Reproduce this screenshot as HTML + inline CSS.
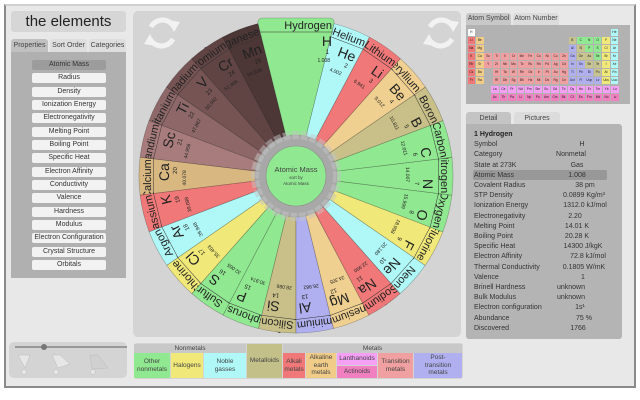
<!DOCTYPE html>
<html><head><meta charset="utf-8"><style>
*{margin:0;padding:0;box-sizing:border-box}
body{width:640px;height:400px;background:#fff;position:relative;overflow:hidden;font-family:"Liberation Sans",sans-serif;color:#222}
.a{position:absolute}
.frame{left:4px;top:4px;width:632px;height:384px;background:#e8e8e8;border:2px solid #8a8a8a;border-top-color:#d0d0d0}
.btn{position:absolute;left:32px;width:74px;height:10px;background:#f2f2f2;border-radius:2px;font-size:7px;text-align:center;line-height:10px;color:#333}
.tab{position:absolute;font-size:7px;text-align:center;border-radius:3px 3px 0 0;color:#444}
.pt{position:absolute;display:grid;grid-template-columns:repeat(18,7.6px);grid-auto-rows:6.5px;column-gap:0.84px;row-gap:1.5px}
.pt b,.lt b{font-weight:normal;font-size:3.2px;line-height:6.5px;text-align:center;color:#222;display:block}
.lt{position:absolute;display:grid;grid-template-columns:repeat(15,7.6px);grid-auto-rows:6.5px;column-gap:1px;row-gap:1.5px}
.A{background:#f07878}.E{background:#f0cc88}.T{background:#f0a0a0}.P{background:#b0b0f0}.M{background:#c8c490}.N{background:#90e890}.X{background:#f0e878}.G{background:#b0f8f8}.L{background:#f4a0f4}.C{background:#f080c0}.W{background:#fff}
.leg{position:absolute;font-size:6.5px;text-align:center;color:#444;display:flex;align-items:center;justify-content:center;line-height:1.15}
.row{position:absolute;left:474px;font-size:7px;color:#333}
.val{position:absolute;font-size:7px;color:#333;transform:translateX(-50%);white-space:nowrap}
</style></head><body>
<div class="a frame"></div>
<div class="a" style="left:11px;top:11px;width:115px;height:21px;background:#d6d6d6;border-radius:3px;font-size:15px;text-align:center;line-height:21px;color:#222">the elements</div>
<div class="tab" style="left:11px;top:39px;width:37px;height:13px;background:#c0c0c0;line-height:13px">Properties</div>
<div class="tab" style="left:50px;top:39px;width:37px;height:13px;background:#dedede;line-height:13px">Sort Order</div>
<div class="tab" style="left:89px;top:39px;width:37px;height:13px;background:#dedede;line-height:13px">Categories</div>
<div class="a" style="left:11px;top:52px;width:115px;height:226px;background:#b0b0b0"></div>
<div class="btn" style="top:60px;background:#9c9c9c">Atomic Mass</div>
<div class="btn" style="top:73.3px">Radius</div>
<div class="btn" style="top:86.7px">Density</div>
<div class="btn" style="top:100px">Ionization Energy</div>
<div class="btn" style="top:113.3px">Electronegativity</div>
<div class="btn" style="top:126.7px">Melting Point</div>
<div class="btn" style="top:140px">Boiling Point</div>
<div class="btn" style="top:153.3px">Specific Heat</div>
<div class="btn" style="top:166.7px">Electron Affinity</div>
<div class="btn" style="top:180px">Conductivity</div>
<div class="btn" style="top:193.3px">Valence</div>
<div class="btn" style="top:206.7px">Hardness</div>
<div class="btn" style="top:220px">Modulus</div>
<div class="btn" style="top:233.3px">Electron Configuration</div>
<div class="btn" style="top:246.7px">Crystal Structure</div>
<div class="btn" style="top:260px">Orbitals</div>

<div class="a" style="left:9px;top:342px;width:118px;height:36px;background:#d4d4d4;border-radius:5px"></div>

<div class="a" style="left:133px;top:11px;width:328px;height:326px;background:#d4d4d4;border-radius:5px"></div>

<!-- periodic table panel -->
<div class="tab" style="left:466px;top:13px;width:45px;height:12px;background:#c8c8c8;line-height:12px">Atom Symbol</div>
<div class="tab" style="left:513px;top:13px;width:46px;height:12px;background:#dcdcdc;line-height:12px">Atom Number</div>
<div class="a" style="left:466px;top:25px;width:164px;height:79px;background:#b2b2b2"></div>
<div class="pt" style="left:467.5px;top:29px">
<b class="W">H</b><b class="G" style="grid-column:18">He</b>
<b class="A">Li</b><b class="E">Be</b><b class="M" style="grid-column:13">B</b><b class="N">C</b><b class="N">N</b><b class="N">O</b><b class="X">F</b><b class="G">Ne</b>
<b class="A">Na</b><b class="E">Mg</b><b class="P" style="grid-column:13">Al</b><b class="M">Si</b><b class="N">P</b><b class="N">S</b><b class="X">Cl</b><b class="G">Ar</b>
<b class="A">K</b><b class="E">Ca</b><b class="T">Sc</b><b class="T">Ti</b><b class="T">V</b><b class="T">Cr</b><b class="T">Mn</b><b class="T">Fe</b><b class="T">Co</b><b class="T">Ni</b><b class="T">Cu</b><b class="T">Zn</b><b class="P">Ga</b><b class="M">Ge</b><b class="M">As</b><b class="N">Se</b><b class="X">Br</b><b class="G">Kr</b>
<b class="A">Rb</b><b class="E">Sr</b><b class="T">Y</b><b class="T">Zr</b><b class="T">Nb</b><b class="T">Mo</b><b class="T">Tc</b><b class="T">Ru</b><b class="T">Rh</b><b class="T">Pd</b><b class="T">Ag</b><b class="T">Cd</b><b class="P">In</b><b class="P">Sn</b><b class="M">Sb</b><b class="M">Te</b><b class="X">I</b><b class="G">Xe</b>
<b class="A">Cs</b><b class="E">Ba</b><b class="T" style="grid-column:4">Hf</b><b class="T">Ta</b><b class="T">W</b><b class="T">Re</b><b class="T">Os</b><b class="T">Ir</b><b class="T">Pt</b><b class="T">Au</b><b class="T">Hg</b><b class="P">Tl</b><b class="P">Pb</b><b class="P">Bi</b><b class="M">Po</b><b class="X">At</b><b class="G">Rn</b>
<b class="A">Fr</b><b class="E">Ra</b><b class="T" style="grid-column:4">Rf</b><b class="T">Db</b><b class="T">Sg</b><b class="T">Bh</b><b class="T">Hs</b><b class="T">Mt</b><b class="T">Ds</b><b class="T">Rg</b><b class="T">Cn</b><b class="P">Uut</b><b class="P">Fl</b><b class="P">Uup</b><b class="P">Lv</b><b class="X">Uus</b><b class="G">Uuo</b>
</div>
<div class="lt" style="left:491px;top:86px">
<b class="L">La</b><b class="L">Ce</b><b class="L">Pr</b><b class="L">Nd</b><b class="L">Pm</b><b class="L">Sm</b><b class="L">Eu</b><b class="L">Gd</b><b class="L">Tb</b><b class="L">Dy</b><b class="L">Ho</b><b class="L">Er</b><b class="L">Tm</b><b class="L">Yb</b><b class="L">Lu</b>
<b class="C">Ac</b><b class="C">Th</b><b class="C">Pa</b><b class="C">U</b><b class="C">Np</b><b class="C">Pu</b><b class="C">Am</b><b class="C">Cm</b><b class="C">Bk</b><b class="C">Cf</b><b class="C">Es</b><b class="C">Fm</b><b class="C">Md</b><b class="C">No</b><b class="C">Lr</b>
</div>

<!-- detail panel -->
<div class="tab" style="left:466px;top:112px;width:45px;height:13px;background:#c4c4c4;line-height:13px">Detail</div>
<div class="tab" style="left:514px;top:112px;width:46px;height:13px;background:#dcdcdc;line-height:13px">Pictures</div>
<div class="a" style="left:466px;top:124px;width:156px;height:215px;background:#b4b4b4;border-radius:0 3px 3px 3px"></div>
<div class="a" style="left:473px;top:170px;width:134px;height:10px;background:#989898;border-radius:2px"></div>
<div class="row" style="top:131px;font-weight:bold;color:#222">1 Hydrogen</div>
<div class="row" style="top:141.2px">Symbol</div><div class="val" style="top:141.2px;left:582px">H</div>
<div class="row" style="top:151.4px">Category</div><div class="val" style="top:151.4px;left:571px">Nonmetal</div>
<div class="row" style="top:161.6px">State at 273K</div><div class="val" style="top:161.6px;left:577px">Gas</div>
<div class="row" style="top:171.8px">Atomic Mass</div><div class="val" style="top:171.8px;left:577px">1.008</div>
<div class="row" style="top:182px">Covalent Radius</div><div class="val" style="top:182px;left:585px">38 pm</div>
<div class="row" style="top:192.2px">STP Density</div><div class="val" style="top:192.2px;left:584px">0.0899 Kg/m³</div>
<div class="row" style="top:202.4px">Ionization Energy</div><div class="val" style="top:202.4px;left:585px">1312.0 kJ/mol</div>
<div class="row" style="top:212.6px">Electronegativity</div><div class="val" style="top:212.6px;left:575px">2.20</div>
<div class="row" style="top:222.8px">Melting Point</div><div class="val" style="top:222.8px;left:577px">14.01 K</div>
<div class="row" style="top:233px">Boiling Point</div><div class="val" style="top:233px;left:577px">20.28 K</div>
<div class="row" style="top:243.2px">Specific Heat</div><div class="val" style="top:243.2px;left:583px">14300 J/kgK</div>
<div class="row" style="top:253.4px">Electron Affinity</div><div class="val" style="top:253.4px;left:588px">72.8 kJ/mol</div>
<div class="row" style="top:263.6px">Thermal Conductivity</div><div class="val" style="top:263.6px;left:584px">0.1805 W/mK</div>
<div class="row" style="top:273.8px">Valence</div><div class="val" style="top:273.8px;left:583px">1</div>
<div class="row" style="top:284px">Brinell Hardness</div><div class="val" style="top:284px;left:571px">unknown</div>
<div class="row" style="top:294.2px">Bulk Modulus</div><div class="val" style="top:294.2px;left:571px">unknown</div>
<div class="row" style="top:304.4px">Electron configuration</div><div class="val" style="top:304.4px;left:580px">1s¹</div>
<div class="row" style="top:314.6px">Abundance</div><div class="val" style="top:314.6px;left:584px">75 %</div>
<div class="row" style="top:324.8px">Discovered</div><div class="val" style="top:324.8px;left:578px">1766</div>

<!-- legend -->
<div class="a" style="left:134px;top:343px;width:329px;height:36px;background:#d4d4d4;border-radius:3px"></div>
<div class="leg" style="left:134px;top:344px;width:112px;height:9px;background:#c8c8c8">Nonmetals</div>
<div class="leg" style="left:283px;top:344px;width:179px;height:9px;background:#c8c8c8">Metals</div>
<div class="leg N" style="left:134px;top:353px;width:36px;height:25px">Other<br>nonmetals</div>
<div class="leg X" style="left:171px;top:353px;width:32px;height:25px">Halogens</div>
<div class="leg G" style="left:204px;top:353px;width:42px;height:25px">Noble<br>gasses</div>
<div class="leg" style="left:247px;top:344px;width:35px;height:34px;background:#c4c08a">Metalloids</div>
<div class="leg A" style="left:283px;top:353px;width:22px;height:25px">Alkali<br>metals</div>
<div class="leg E" style="left:306px;top:353px;width:30px;height:25px">Alkaline<br>earth<br>metals</div>
<div class="leg L" style="left:337px;top:353px;width:40px;height:12px">Lanthanoids</div>
<div class="leg C" style="left:337px;top:366px;width:40px;height:12px">Actinoids</div>
<div class="leg T" style="left:378px;top:353px;width:35px;height:25px">Transition<br>metals</div>
<div class="leg P" style="left:414px;top:353px;width:48px;height:25px">Post-<br>transition<br>metals</div>

<svg class="a" style="left:0;top:0" width="640" height="400" viewBox="0 0 640 400" font-family="Liberation Sans, sans-serif">
<defs>
<path id="w" d="M-4.8,-39.7 L-18.9,-155.9 A157 157 0 0 1 18.9,-155.9 L4.8,-39.7 Z" stroke="rgba(0,0,0,0.3)" stroke-width="0.6"/>
<path id="wh" d="M-9.7,-38.8 L-38.2,-153.3 Q-38,-158 -33,-158 L33,-158 Q38,-158 38.2,-153.3 L9.7,-38.8 Z" stroke="rgba(0,0,0,0.3)" stroke-width="0.6"/>
</defs>
<!-- bottom-left control -->
<line x1="15" y1="347" x2="127" y2="347" stroke="#999" stroke-width="2"/>
<circle cx="44" cy="347" r="3" fill="#777"/>
<g fill="#e6e6e6" stroke="#bbb" stroke-width="0.5">
<path d="M18,355 L30,355 L25,368 Z"/><circle cx="24" cy="372" r="2.5"/>
<path d="M52,355 L60,355 L70,364 L58,368 Z"/><circle cx="56" cy="372" r="2.5"/>
<path d="M90,355 L98,355 L108,368 L92,369 Z" fill="#d0d0d0"/><circle cx="93" cy="372" r="2.5"/>
</g>
<!-- refresh icons -->
<g fill="none" stroke="#f2f2f2" stroke-width="5">
<path d="M151,27 A13,13 0 0 1 174,27"/><path d="M173,39 A13,13 0 0 1 150,39"/>
<path d="M430,27 A13,13 0 0 1 453,27"/><path d="M452,39 A13,13 0 0 1 429,39"/>
</g>
<g fill="#f2f2f2">
<path d="M168,20 L180,22 L174,32 Z"/><path d="M156,46 L144,44 L150,34 Z"/>
<path d="M447,20 L459,22 L453,32 Z"/><path d="M435,46 L423,44 L429,34 Z"/>
</g>
<!-- wheel -->
<g fill="#222">
<g transform="translate(296 176) rotate(339.08)"><use href="#w" fill="#4c3636"/><text x="17" y="-145" font-size="11" text-anchor="end">Manganese</text><line x1="-19" y1="-142.5" x2="19" y2="-142.5" stroke="#333" stroke-width="0.5"/><text x="13" y="-127" font-size="14" text-anchor="end">Mn</text><text x="9" y="-119" font-size="6" text-anchor="end">25</text><text x="6" y="-110" font-size="5" text-anchor="end">54.938</text></g>
<g transform="translate(296 176) rotate(325.25)"><use href="#w" fill="#604444"/><text x="17" y="-145" font-size="11" text-anchor="end">Chromium</text><line x1="-19" y1="-142.5" x2="19" y2="-142.5" stroke="#333" stroke-width="0.5"/><text x="13" y="-127" font-size="14" text-anchor="end">Cr</text><text x="9" y="-119" font-size="6" text-anchor="end">24</text><text x="6" y="-110" font-size="5" text-anchor="end">51.996</text></g>
<g transform="translate(296 176) rotate(311.42)"><use href="#w" fill="#765454"/><text x="17" y="-145" font-size="11" text-anchor="end">Vanadium</text><line x1="-19" y1="-142.5" x2="19" y2="-142.5" stroke="#333" stroke-width="0.5"/><text x="13" y="-127" font-size="14" text-anchor="end">V</text><text x="9" y="-119" font-size="6" text-anchor="end">23</text><text x="6" y="-110" font-size="5" text-anchor="end">50.942</text></g>
<g transform="translate(296 176) rotate(297.58)"><use href="#w" fill="#8e6868"/><text x="17" y="-145" font-size="11" text-anchor="end">Titanium</text><line x1="-19" y1="-142.5" x2="19" y2="-142.5" stroke="#333" stroke-width="0.5"/><text x="13" y="-127" font-size="14" text-anchor="end">Ti</text><text x="9" y="-119" font-size="6" text-anchor="end">22</text><text x="6" y="-110" font-size="5" text-anchor="end">47.867</text></g>
<g transform="translate(296 176) rotate(283.75)"><use href="#w" fill="#a87c7c"/><text x="17" y="-145" font-size="11" text-anchor="end">Scandium</text><line x1="-19" y1="-142.5" x2="19" y2="-142.5" stroke="#333" stroke-width="0.5"/><text x="13" y="-127" font-size="14" text-anchor="end">Sc</text><text x="9" y="-119" font-size="6" text-anchor="end">21</text><text x="6" y="-110" font-size="5" text-anchor="end">44.956</text></g>
<g transform="translate(296 176) rotate(269.92)"><use href="#w" fill="#d8b880"/><text x="17" y="-145" font-size="11" text-anchor="end">Calcium</text><line x1="-19" y1="-142.5" x2="19" y2="-142.5" stroke="#333" stroke-width="0.5"/><text x="13" y="-127" font-size="14" text-anchor="end">Ca</text><text x="9" y="-119" font-size="6" text-anchor="end">20</text><text x="6" y="-110" font-size="5" text-anchor="end">40.078</text></g>
<g transform="translate(296 176) rotate(256.08)"><use href="#w" fill="#f07878"/><text x="17" y="-145" font-size="11" text-anchor="end">Potassium</text><line x1="-19" y1="-142.5" x2="19" y2="-142.5" stroke="#333" stroke-width="0.5"/><text x="13" y="-127" font-size="14" text-anchor="end">K</text><text x="9" y="-119" font-size="6" text-anchor="end">19</text><text x="6" y="-110" font-size="5" text-anchor="end">39.098</text></g>
<g transform="translate(296 176) rotate(242.25)"><use href="#w" fill="#b0f8f8"/><text x="17" y="-145" font-size="11" text-anchor="end">Argon</text><line x1="-19" y1="-142.5" x2="19" y2="-142.5" stroke="#333" stroke-width="0.5"/><text x="13" y="-127" font-size="14" text-anchor="end">Ar</text><text x="9" y="-119" font-size="6" text-anchor="end">18</text><text x="6" y="-110" font-size="5" text-anchor="end">39.948</text></g>
<g transform="translate(296 176) rotate(228.42)"><use href="#w" fill="#f0e878"/><text x="17" y="-145" font-size="11" text-anchor="end">Chlorine</text><line x1="-19" y1="-142.5" x2="19" y2="-142.5" stroke="#333" stroke-width="0.5"/><text x="13" y="-127" font-size="14" text-anchor="end">Cl</text><text x="9" y="-119" font-size="6" text-anchor="end">17</text><text x="6" y="-110" font-size="5" text-anchor="end">35.453</text></g>
<g transform="translate(296 176) rotate(214.58)"><use href="#w" fill="#90e890"/><text x="17" y="-145" font-size="11" text-anchor="end">Sulfur</text><line x1="-19" y1="-142.5" x2="19" y2="-142.5" stroke="#333" stroke-width="0.5"/><text x="13" y="-127" font-size="14" text-anchor="end">S</text><text x="9" y="-119" font-size="6" text-anchor="end">16</text><text x="6" y="-110" font-size="5" text-anchor="end">32.065</text></g>
<g transform="translate(296 176) rotate(200.75)"><use href="#w" fill="#90e890"/><text x="17" y="-145" font-size="11" text-anchor="end">Phosphorus</text><line x1="-19" y1="-142.5" x2="19" y2="-142.5" stroke="#333" stroke-width="0.5"/><text x="13" y="-127" font-size="14" text-anchor="end">P</text><text x="9" y="-119" font-size="6" text-anchor="end">15</text><text x="6" y="-110" font-size="5" text-anchor="end">30.974</text></g>
<g transform="translate(296 176) rotate(186.92)"><use href="#w" fill="#c8c088"/><text x="17" y="-145" font-size="11" text-anchor="end">Silicon</text><line x1="-19" y1="-142.5" x2="19" y2="-142.5" stroke="#333" stroke-width="0.5"/><text x="13" y="-127" font-size="14" text-anchor="end">Si</text><text x="9" y="-119" font-size="6" text-anchor="end">14</text><text x="6" y="-110" font-size="5" text-anchor="end">28.086</text></g>
<g transform="translate(296 176) rotate(173.08)"><use href="#w" fill="#b0b0f0"/><text x="17" y="-145" font-size="11" text-anchor="end">Aluminium</text><line x1="-19" y1="-142.5" x2="19" y2="-142.5" stroke="#333" stroke-width="0.5"/><text x="13" y="-127" font-size="14" text-anchor="end">Al</text><text x="9" y="-119" font-size="6" text-anchor="end">13</text><text x="6" y="-110" font-size="5" text-anchor="end">26.982</text></g>
<g transform="translate(296 176) rotate(159.25)"><use href="#w" fill="#f0d090"/><text x="17" y="-145" font-size="11" text-anchor="end">Magnesium</text><line x1="-19" y1="-142.5" x2="19" y2="-142.5" stroke="#333" stroke-width="0.5"/><text x="13" y="-127" font-size="14" text-anchor="end">Mg</text><text x="9" y="-119" font-size="6" text-anchor="end">12</text><text x="6" y="-110" font-size="5" text-anchor="end">24.305</text></g>
<g transform="translate(296 176) rotate(145.42)"><use href="#w" fill="#f07878"/><text x="17" y="-145" font-size="11" text-anchor="end">Sodium</text><line x1="-19" y1="-142.5" x2="19" y2="-142.5" stroke="#333" stroke-width="0.5"/><text x="13" y="-127" font-size="14" text-anchor="end">Na</text><text x="9" y="-119" font-size="6" text-anchor="end">11</text><text x="6" y="-110" font-size="5" text-anchor="end">22.990</text></g>
<g transform="translate(296 176) rotate(131.58)"><use href="#w" fill="#b0f8f8"/><text x="17" y="-145" font-size="11" text-anchor="end">Neon</text><line x1="-19" y1="-142.5" x2="19" y2="-142.5" stroke="#333" stroke-width="0.5"/><text x="13" y="-127" font-size="14" text-anchor="end">Ne</text><text x="9" y="-119" font-size="6" text-anchor="end">10</text><text x="6" y="-110" font-size="5" text-anchor="end">20.180</text></g>
<g transform="translate(296 176) rotate(117.75)"><use href="#w" fill="#f0e878"/><text x="17" y="-145" font-size="11" text-anchor="end">Fluorine</text><line x1="-19" y1="-142.5" x2="19" y2="-142.5" stroke="#333" stroke-width="0.5"/><text x="13" y="-127" font-size="14" text-anchor="end">F</text><text x="9" y="-119" font-size="6" text-anchor="end">9</text><text x="6" y="-110" font-size="5" text-anchor="end">18.998</text></g>
<g transform="translate(296 176) rotate(103.92)"><use href="#w" fill="#90e890"/><text x="17" y="-145" font-size="11" text-anchor="end">Oxygen</text><line x1="-19" y1="-142.5" x2="19" y2="-142.5" stroke="#333" stroke-width="0.5"/><text x="13" y="-127" font-size="14" text-anchor="end">O</text><text x="9" y="-119" font-size="6" text-anchor="end">8</text><text x="6" y="-110" font-size="5" text-anchor="end">15.999</text></g>
<g transform="translate(296 176) rotate(90.08)"><use href="#w" fill="#90e890"/><text x="17" y="-145" font-size="11" text-anchor="end">Nitrogen</text><line x1="-19" y1="-142.5" x2="19" y2="-142.5" stroke="#333" stroke-width="0.5"/><text x="13" y="-127" font-size="14" text-anchor="end">N</text><text x="9" y="-119" font-size="6" text-anchor="end">7</text><text x="6" y="-110" font-size="5" text-anchor="end">14.007</text></g>
<g transform="translate(296 176) rotate(76.25)"><use href="#w" fill="#90e890"/><text x="17" y="-145" font-size="11" text-anchor="end">Carbon</text><line x1="-19" y1="-142.5" x2="19" y2="-142.5" stroke="#333" stroke-width="0.5"/><text x="13" y="-127" font-size="14" text-anchor="end">C</text><text x="9" y="-119" font-size="6" text-anchor="end">6</text><text x="6" y="-110" font-size="5" text-anchor="end">12.011</text></g>
<g transform="translate(296 176) rotate(62.42)"><use href="#w" fill="#c8c088"/><text x="17" y="-145" font-size="11" text-anchor="end">Boron</text><line x1="-19" y1="-142.5" x2="19" y2="-142.5" stroke="#333" stroke-width="0.5"/><text x="13" y="-127" font-size="14" text-anchor="end">B</text><text x="9" y="-119" font-size="6" text-anchor="end">5</text><text x="6" y="-110" font-size="5" text-anchor="end">10.811</text></g>
<g transform="translate(296 176) rotate(48.58)"><use href="#w" fill="#f0d090"/><text x="17" y="-145" font-size="11" text-anchor="end">Beryllium</text><line x1="-19" y1="-142.5" x2="19" y2="-142.5" stroke="#333" stroke-width="0.5"/><text x="13" y="-127" font-size="14" text-anchor="end">Be</text><text x="9" y="-119" font-size="6" text-anchor="end">4</text><text x="6" y="-110" font-size="5" text-anchor="end">9.012</text></g>
<g transform="translate(296 176) rotate(34.75)"><use href="#w" fill="#f07878"/><text x="17" y="-145" font-size="11" text-anchor="end">Lithium</text><line x1="-19" y1="-142.5" x2="19" y2="-142.5" stroke="#333" stroke-width="0.5"/><text x="13" y="-127" font-size="14" text-anchor="end">Li</text><text x="9" y="-119" font-size="6" text-anchor="end">3</text><text x="6" y="-110" font-size="5" text-anchor="end">6.941</text></g>
<g transform="translate(296 176) rotate(20.92)"><use href="#w" fill="#b0f8f8"/><text x="17" y="-145" font-size="11" text-anchor="end">Helium</text><line x1="-19" y1="-142.5" x2="19" y2="-142.5" stroke="#333" stroke-width="0.5"/><text x="13" y="-127" font-size="14" text-anchor="end">He</text><text x="9" y="-119" font-size="6" text-anchor="end">2</text><text x="6" y="-110" font-size="5" text-anchor="end">4.002</text></g>
<g transform="translate(296 176)"><use href="#wh" fill="#90e890"/><text x="36" y="-147" font-size="11" text-anchor="end">Hydrogen</text><line x1="-37" y1="-144" x2="37" y2="-144" stroke="#333" stroke-width="0.5"/><text x="36" y="-130" font-size="14" text-anchor="end">H</text><text x="33" y="-122" font-size="6" text-anchor="end">1</text><text x="34" y="-114" font-size="5" text-anchor="end">1.008</text></g>
</g>
<circle cx="296" cy="176" r="41" fill="#a8a8a8" stroke="#8c8c8c" stroke-width="0.6"/>
<circle cx="296" cy="176" r="41" fill="none" stroke="#c4c4c4" stroke-width="8" stroke-dasharray="7 2" opacity="0.5"/>
<circle cx="296" cy="176" r="30" fill="#90e890" stroke="#888" stroke-width="0.6"/>
<text x="296" y="172" font-size="7.5" text-anchor="middle" fill="#444">Atomic Mass</text>
<text x="296" y="179" font-size="4.5" text-anchor="middle" fill="#444">sort by</text>
<text x="296" y="185" font-size="4.5" text-anchor="middle" fill="#444">Atomic Mass</text>
</svg>
</body></html>
